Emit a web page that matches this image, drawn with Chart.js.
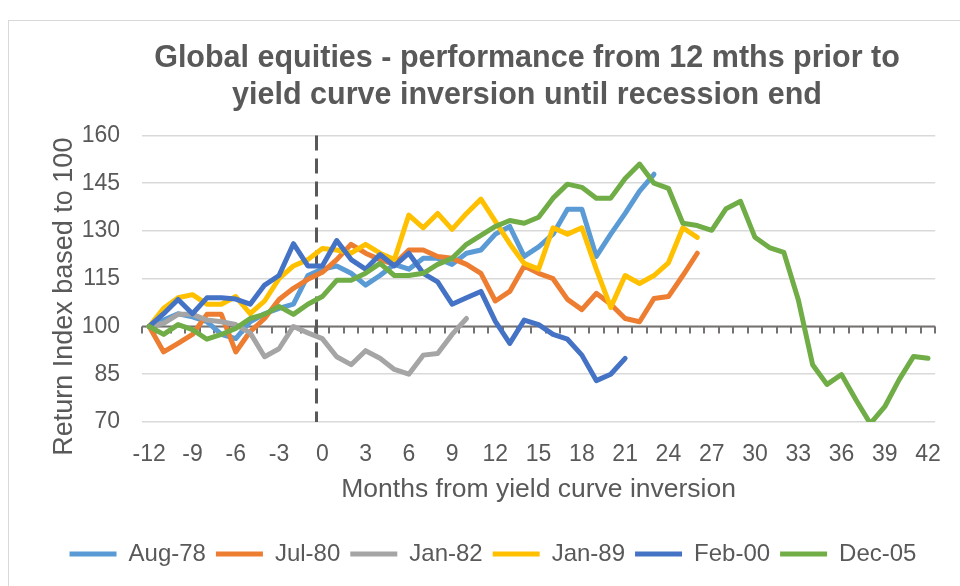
<!DOCTYPE html>
<html>
<head>
<meta charset="utf-8">
<script src="https://cdn.jsdelivr.net/npm/chart.js@4"></script>
<style>
    body { margin: 0; background: #ffffff; }
    #wrap { position: relative; width: 960px; height: 586px; overflow: hidden; }
    canvas { position: absolute; left: 0; top: 0; }
</style>
</head>
<body>
<div id="wrap"><canvas id="chart" width="960" height="586"></canvas></div>
<script>
// months relative to yield curve inversion
const months = [-12, -11, -10, -9, -8, -7, -6, -5, -4, -3, -2, -1, 0, 1, 2, 3, 4, 5, 6, 7, 8, 9,
    10, 11, 12, 13, 14, 15, 16, 17, 18, 19, 20, 21, 22, 23, 24, 25, 26, 27, 28, 29, 30, 31,
    32, 33, 34, 35, 36, 37, 38, 39, 40, 41, 42];

const aug78 = [100, 102, 104, 103, 101.5, 97.5, 96.2, 101.5, 104, 105.7, 107, 116, 118, 119, 116.7,
    113, 116, 119.5, 118, 121.4, 121.4, 119.5, 123, 124, 129, 131.4, 122, 125, 129, 136.8, 136.8,
    122, 129, 135.5, 142.5, 147.8];
const jul80 = [100, 92, 94.7, 97.5, 103.8, 103.8, 92, 98.4, 102.5, 108.5, 112, 114.8, 117, 121, 125.8,
    123, 121, 119.5, 124, 124, 122, 121.4, 119.5, 116.7, 108, 111, 119, 116.7, 115, 108.5, 105.3,
    110.4, 107, 102.5, 101.5, 108.8, 109.4, 116, 123];
const jan82 = [100, 101, 103.8, 103.8, 102, 101.5, 100.6, 98, 90.5, 93, 100, 98, 96.2, 90.5, 88,
    92.4, 90, 86.5, 85, 91, 91.5, 97.5, 102.5];
const jan89 = [100, 105.7, 109, 110, 107, 107, 109.4, 104, 108, 115, 119, 121, 124.5, 124, 123,
    125.8, 123, 121, 135, 131, 135.5, 130.5, 135.5, 140, 133, 126, 119.8, 118, 131, 129, 131,
    118, 106, 116, 113.5, 116, 120, 131, 128];
const feb00 = [100, 104, 108.5, 104, 109, 109, 108.6, 107, 113, 116, 126, 119, 119, 127, 121,
    118, 122.6, 119, 123, 116.7, 114, 107, 109, 111, 101.6, 94.7, 102, 100.6, 97.5, 96, 91,
    83, 85, 90];
const dec05 = [100, 97.5, 100.6, 99, 96, 97.5, 99.4, 102.5, 103.8, 106.3, 103.8, 107, 109.4, 114.5,
    114.5, 116.7, 119.8, 116, 116, 116.7, 119.5, 121.4, 125.8, 128.6, 131.4, 133.3, 132.4, 134.3,
    140.3, 144.7, 143.7, 140.3, 140.3, 146.5, 151, 145, 143.4, 132.4, 131.7, 130.2, 137, 139.3,
    128, 124.8, 123.3, 108.5, 88, 81.8, 84.9, 77, 69.5, 74.8, 83.3, 90.6, 90];

const seriesNames = ['Aug-78', 'Jul-80', 'Jan-82', 'Jan-89', 'Feb-00', 'Dec-05'];
const seriesValues = [aug78, jul80, jan82, jan89, feb00, dec05];
const seriesColors = ['#5B9BD5', '#ED7D31', '#A5A5A5', '#FFC000', '#4472C4', '#70AD47'];

const yTicks = [70, 85, 100, 115, 130, 145, 160];
const baseValue = 100;

const textColor = '#595959';
const gridColor = '#D9D9D9';
const fontFamily = '"Liberation Sans", Arial, sans-serif';

// outer frame, axis line at 100 with tick marks, dashed inversion marker
const decorPlugin = {
    id: 'decor',
    beforeDraw(chart) {
        const ctx = chart.ctx;
        ctx.save();
        ctx.strokeStyle = gridColor;
        ctx.lineWidth = 1;
        ctx.strokeRect(8.5, 20.5, 1000, 1000);
        ctx.restore();
    },
    afterLayout(chart) {
        // title sits a bit right of the legend centre in the original
        chart.titleBlock.left += 34;
        chart.titleBlock.right += 34;

        // y axis title is a little lower than the plot centre
        const yScale = chart.scales.y;
        yScale.drawTitle = function() {
            const t = this.top, b = this.bottom;
            this.top += 18;
            this.bottom += 18;
            Chart.Scale.prototype.drawTitle.call(this);
            this.top = t;
            this.bottom = b;
        };
    },
    beforeDatasetsDraw(chart) {
        const ctx = chart.ctx;
        const x = chart.scales.x;
        const y = chart.scales.y;
        const area = chart.chartArea;
        const y100 = y.getPixelForValue(baseValue);

        ctx.save();
        ctx.strokeStyle = '#767171';
        ctx.lineWidth = 2;
        ctx.beginPath();
        ctx.moveTo(area.left, y100);
        ctx.lineTo(area.right, y100);
        for (let i = 0; i <= months.length; i++) {
            const px = Math.round(x.getPixelForValue(i - 0.5));
            ctx.moveTo(px, y100);
            ctx.lineTo(px, y100 + 7);
        }
        ctx.stroke();

        const xi = x.getPixelForValue(months.indexOf(0) - 0.4);
        ctx.strokeStyle = textColor;
        ctx.lineWidth = 3;
        ctx.setLineDash([15, 8]);
        ctx.beginPath();
        ctx.moveTo(xi, area.top);
        ctx.lineTo(xi, area.bottom);
        ctx.stroke();
        ctx.restore();
    }
};

const ctx = document.getElementById('chart');

new Chart(ctx, {
    type: 'line',
    data: {
        labels: months,
        datasets: seriesNames.map((name, i) => ({
            label: name,
            data: seriesValues[i],
            borderColor: seriesColors[i],
            backgroundColor: seriesColors[i],
            borderWidth: 5,
            pointRadius: 0,
            tension: 0,
            borderJoinStyle: 'round',
            borderCapStyle: 'round',
            order: seriesNames.length - i
        }))
    },
    options: {
        responsive: false,
        animation: false,
        devicePixelRatio: 1,
        layout: {
            padding: { left: 48, right: 22, top: 0, bottom: 10 }
        },
        plugins: {
            title: {
                display: true,
                text: ['Global equities - performance from 12 mths prior to',
                       'yield curve inversion until recession end'],
                color: textColor,
                font: { family: fontFamily, size: 30.5, weight: 'bold', lineHeight: 1.22 },
                padding: { top: 40, bottom: 21 }
            },
            legend: {
                position: 'bottom',
                labels: {
                    color: textColor,
                    font: { family: fontFamily, size: 24 },
                    boxWidth: 47,
                    boxHeight: 5,
                    padding: 10,
                    sort: (a, b) => a.datasetIndex - b.datasetIndex,
                    generateLabels: function(chart) {
                        return Chart.defaults.plugins.legend.labels.generateLabels(chart).map(l => {
                            l.lineWidth = 0;
                            l.fillStyle = l.strokeStyle;
                            return l;
                        });
                    }
                }
            },
            tooltip: { enabled: false }
        },
        scales: {
            x: {
                type: 'category',
                offset: true,
                grid: { display: false, drawTicks: false },
                border: { display: false },
                ticks: {
                    color: textColor,
                    font: { family: fontFamily, size: 23 },
                    autoSkip: false,
                    maxRotation: 0,
                    padding: 19,
                    callback: function(value) {
                        const m = months[value];
                        return m % 3 === 0 ? String(m) : '';
                    }
                },
                title: {
                    display: true,
                    text: 'Months from yield curve inversion',
                    color: textColor,
                    font: { family: fontFamily, size: 26.5 },
                    padding: { top: 0, bottom: 26 }
                },
                afterFit: function(scale) {
                    scale.height = 110;
                }
            },
            y: {
                min: yTicks[0],
                max: yTicks[yTicks.length - 1],
                grid: { color: gridColor, lineWidth: 1.5, drawTicks: false },
                border: { display: false },
                afterBuildTicks: function(scale) {
                    scale.ticks = yTicks.map(v => ({ value: v }));
                },
                ticks: {
                    color: textColor,
                    font: { family: fontFamily, size: 23 },
                    padding: 22
                },
                title: {
                    display: true,
                    text: 'Return Index based to 100',
                    color: textColor,
                    font: { family: fontFamily, size: 27 },
                    padding: { top: 0, bottom: 0 }
                },
                afterFit: function(scale) {
                    scale.width = 94;
                }
            }
        }
    },
    plugins: [decorPlugin]
});
</script>
</body>
</html>
